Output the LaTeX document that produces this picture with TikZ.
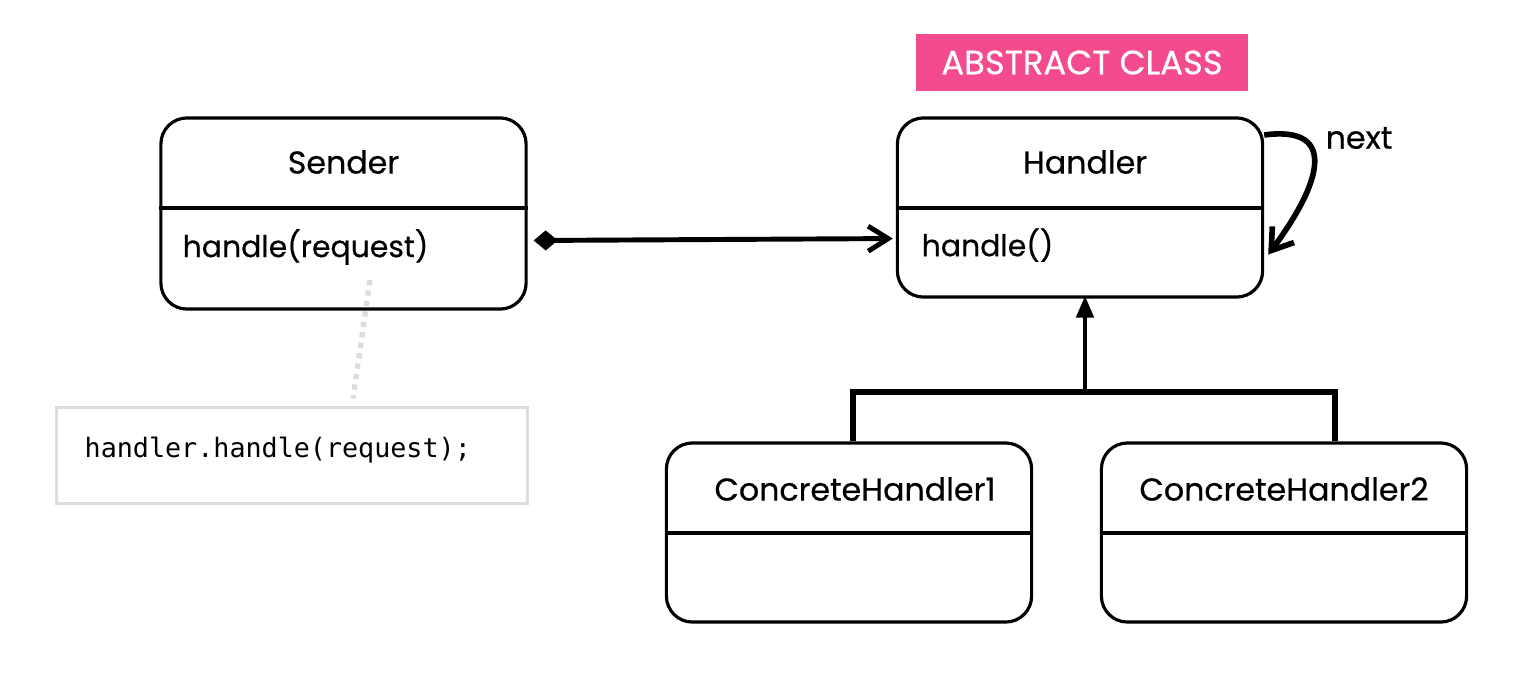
\documentclass[tikz,border=0pt]{standalone}
\usepackage{fontspec}
\setmainfont{Poppins}[FakeBold=0.5]
\setmonofont{DejaVu Sans Mono}
\usetikzlibrary{arrows.meta}
\definecolor{abspink}{HTML}{F44A8E}
\definecolor{notegray}{HTML}{DCDCDC}
\tikzset{
  classbox/.style={draw, line width=0.9pt, rounded corners=0.26cm, minimum width=3.65cm, inner sep=0pt},
  title/.style={font=\fontsize{9}{11}\selectfont},
  method/.style={font=\fontsize{8.5}{10}\selectfont, anchor=west, inner sep=0pt},
  link/.style={line width=1.4pt},
}

\begin{document}
\begin{tikzpicture}[x=0.01cm, y=-0.01cm]
\useasboundingbox (0,0) rectangle (1528,684);

% Sender
\node[classbox, minimum height=1.91cm] (sender) at (343.5,213.5) {};
\draw[line width=0.9pt] (sender.west |- 0,208) -- (sender.east |- 0,208);
\node[title] (sendertitle) at (343.5,162) {Sender};
\node[method] (sendermethod) at (182,247) {handle(request)};

% Handler
\node[classbox, minimum height=1.79cm] (handler) at (1080,207.5) {};
\draw[line width=0.9pt] (handler.west |- 0,208) -- (handler.east |- 0,208);
\node[title] (handlertitle) at (1085,162) {Handler};
\node[method] (handlermethod) at (921,245) {handle()};
\node[title, font=\fontsize{9.6}{11}\selectfont, fill=abspink, text=white, minimum width=3.32cm, minimum height=0.57cm] (abstract) at (1082,62.5) {ABSTRACT CLASS};

% Concrete handlers
\node[classbox, minimum height=1.79cm] (c1) at (849,532.5) {};
\draw[line width=0.9pt] (c1.west |- 0,533) -- (c1.east |- 0,533);
\node[title] (c1title) at (855,489) {ConcreteHandler1};
\node[classbox, minimum height=1.79cm] (c2) at (1284,532.5) {};
\draw[line width=0.9pt] (c2.west |- 0,533) -- (c2.east |- 0,533);
\node[title] (c2title) at (1284,489) {ConcreteHandler2};

% Code note
\node[draw=notegray, line width=0.85pt, minimum width=4.70cm, minimum height=0.95cm] (code) at (292,455.5) {};
\node[anchor=west, inner sep=0pt, font=\ttfamily\fontsize{7.6}{9}\selectfont] (codetext) at (84,450) {handler.handle(request);};
\coordinate (noteend) at (370,280);
\draw[notegray, line width=1.5pt, dash pattern=on 1.5pt off 1.5pt] (noteend) -- ([xshift=0.61cm, yshift=0.08cm]code.north);

% Composition
\draw[link, {Diamond[length=0.24cm,width=0.2cm]}-{Straight Barb[length=0.2cm,width=0.25cm]}, shorten <=0.06cm, shorten >=0.03cm] ([yshift=-0.27cm]sender.east) -- ([yshift=-0.31cm]handler.west);

% Self reference
\draw[link, line width=1.6pt, -{Straight Barb[length=0.2cm,width=0.27cm]}] ([yshift=0.725cm]handler.east) .. controls (1340,125) and (1320,185) .. ([xshift=0.04cm, yshift=-0.47cm]handler.east);
\node[title] (nextlabel) at (1359,138) {next};

% Inheritance
\coordinate (bus) at (1085,392);
\draw[line width=1.5pt] ([xshift=0.04cm]c1.north) |- (bus) -| ([xshift=0.51cm]c2.north);
\draw[link, -{Triangle[length=0.22cm,width=0.17cm]}, shorten >=-0.03cm] (bus) -- (bus |- handler.south);
\end{tikzpicture}
\end{document}
